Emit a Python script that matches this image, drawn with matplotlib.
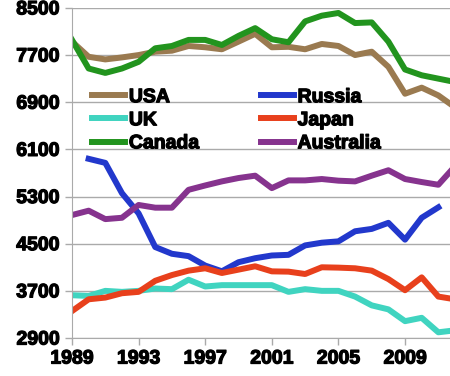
import numpy as np
import matplotlib.pyplot as plt
import matplotlib.patheffects as pe

plt.rcParams['font.family'] = ['Liberation Sans', 'DejaVu Sans']
plt.rcParams['font.weight'] = 'bold'

years = list(range(1989, 2013))

usa = [7928, 7671, 7626, 7660, 7700, 7757, 7774, 7854, 7832, 7798, 7928, 8060,
       7832, 7840, 7798, 7888, 7854, 7700, 7757, 7500, 7044, 7147, 7015, 6814]
canada = [7957, 7472, 7397, 7472, 7585, 7815, 7854, 7957, 7957, 7871, 8025, 8157,
          7968, 7917, 8271, 8368, 8414, 8243, 8254, 7928, 7455, 7357, 7300, 7243]
australia = [4986, 5060, 4917, 4940, 5157, 5111, 5111, 5414, 5488, 5557, 5614, 5654,
             5443, 5574, 5574, 5597, 5569, 5557, 5654, 5746, 5597, 5546, 5500, 5814]
russia_years = list(range(1990, 2012))
russia = [5940, 5871, 5357, 5014, 4443, 4329, 4289, 4129, 4032, 4186, 4254,
          4300, 4311, 4471, 4517, 4540, 4711, 4751, 4854, 4569, 4940, 5117]
japan = [3357, 3557, 3586, 3660, 3683, 3871, 3968, 4043, 4083, 4003, 4060, 4117,
         4031, 4026, 3986, 4100, 4094, 4083, 4043, 3900, 3711, 3929, 3603, 3557]
uk = [3626, 3614, 3700, 3683, 3700, 3740, 3729, 3889, 3774, 3797, 3797, 3797,
      3797, 3683, 3729, 3700, 3700, 3603, 3454, 3386, 3186, 3243, 2997, 3031]

yticks = [2900, 3700, 4500, 5300, 6100, 6900, 7700, 8500]
xticks = [1989, 1993, 1997, 2001, 2005, 2009]

fig = plt.figure(figsize=(4.5, 3.76), dpi=100)
ax = fig.add_axes([0.16, 0.101, 0.84, 0.878])

lw = 4.3
l_usa, = ax.plot(years, usa, color='#9a7a50', lw=lw, label='USA')
l_uk, = ax.plot(years, uk, color='#40d4c0', lw=lw, label='UK')
l_can, = ax.plot(years, canada, color='#22941e', lw=lw, label='Canada')
l_rus, = ax.plot(russia_years, russia, color='#2238cc', lw=lw, label='Russia')
l_jap, = ax.plot(years, japan, color='#e8401c', lw=lw, label='Japan')
l_aus, = ax.plot(years, australia, color='#86338e', lw=lw, label='Australia')

ax.set_ylim(2900, 8500)
ax.set_xlim(1989, 2011.7)
ax.set_yticks(yticks)
ax.set_xticks(xticks)
ax.tick_params(labelsize=14, length=5, color='#aaaaaa', width=1, pad=4)
bold = [pe.withStroke(linewidth=0.9, foreground='black')]
for lab in ax.get_xticklabels() + ax.get_yticklabels():
    lab.set_fontweight('bold')
    lab.set_path_effects(bold)
ax.grid(axis='y', color='#aaaaaa', lw=1)
ax.set_axisbelow(True)
for s in ['top', 'right']:
    ax.spines[s].set_visible(False)
for s in ['left', 'bottom']:
    ax.spines[s].set_color('#aaaaaa')

leg = ax.legend(handles=[l_usa, l_uk, l_can, l_rus, l_jap, l_aus], ncol=2,
                loc='upper left', bbox_to_anchor=(0.027, 0.785), frameon=False,
                prop={'size': 14, 'weight': 'bold'}, handlelength=1.7,
                handletextpad=0.2, labelspacing=0.28, columnspacing=3.15,
                borderpad=0)
for t in leg.get_texts():
    t.set_path_effects(bold)

fig.savefig('out.png', dpi=100)
